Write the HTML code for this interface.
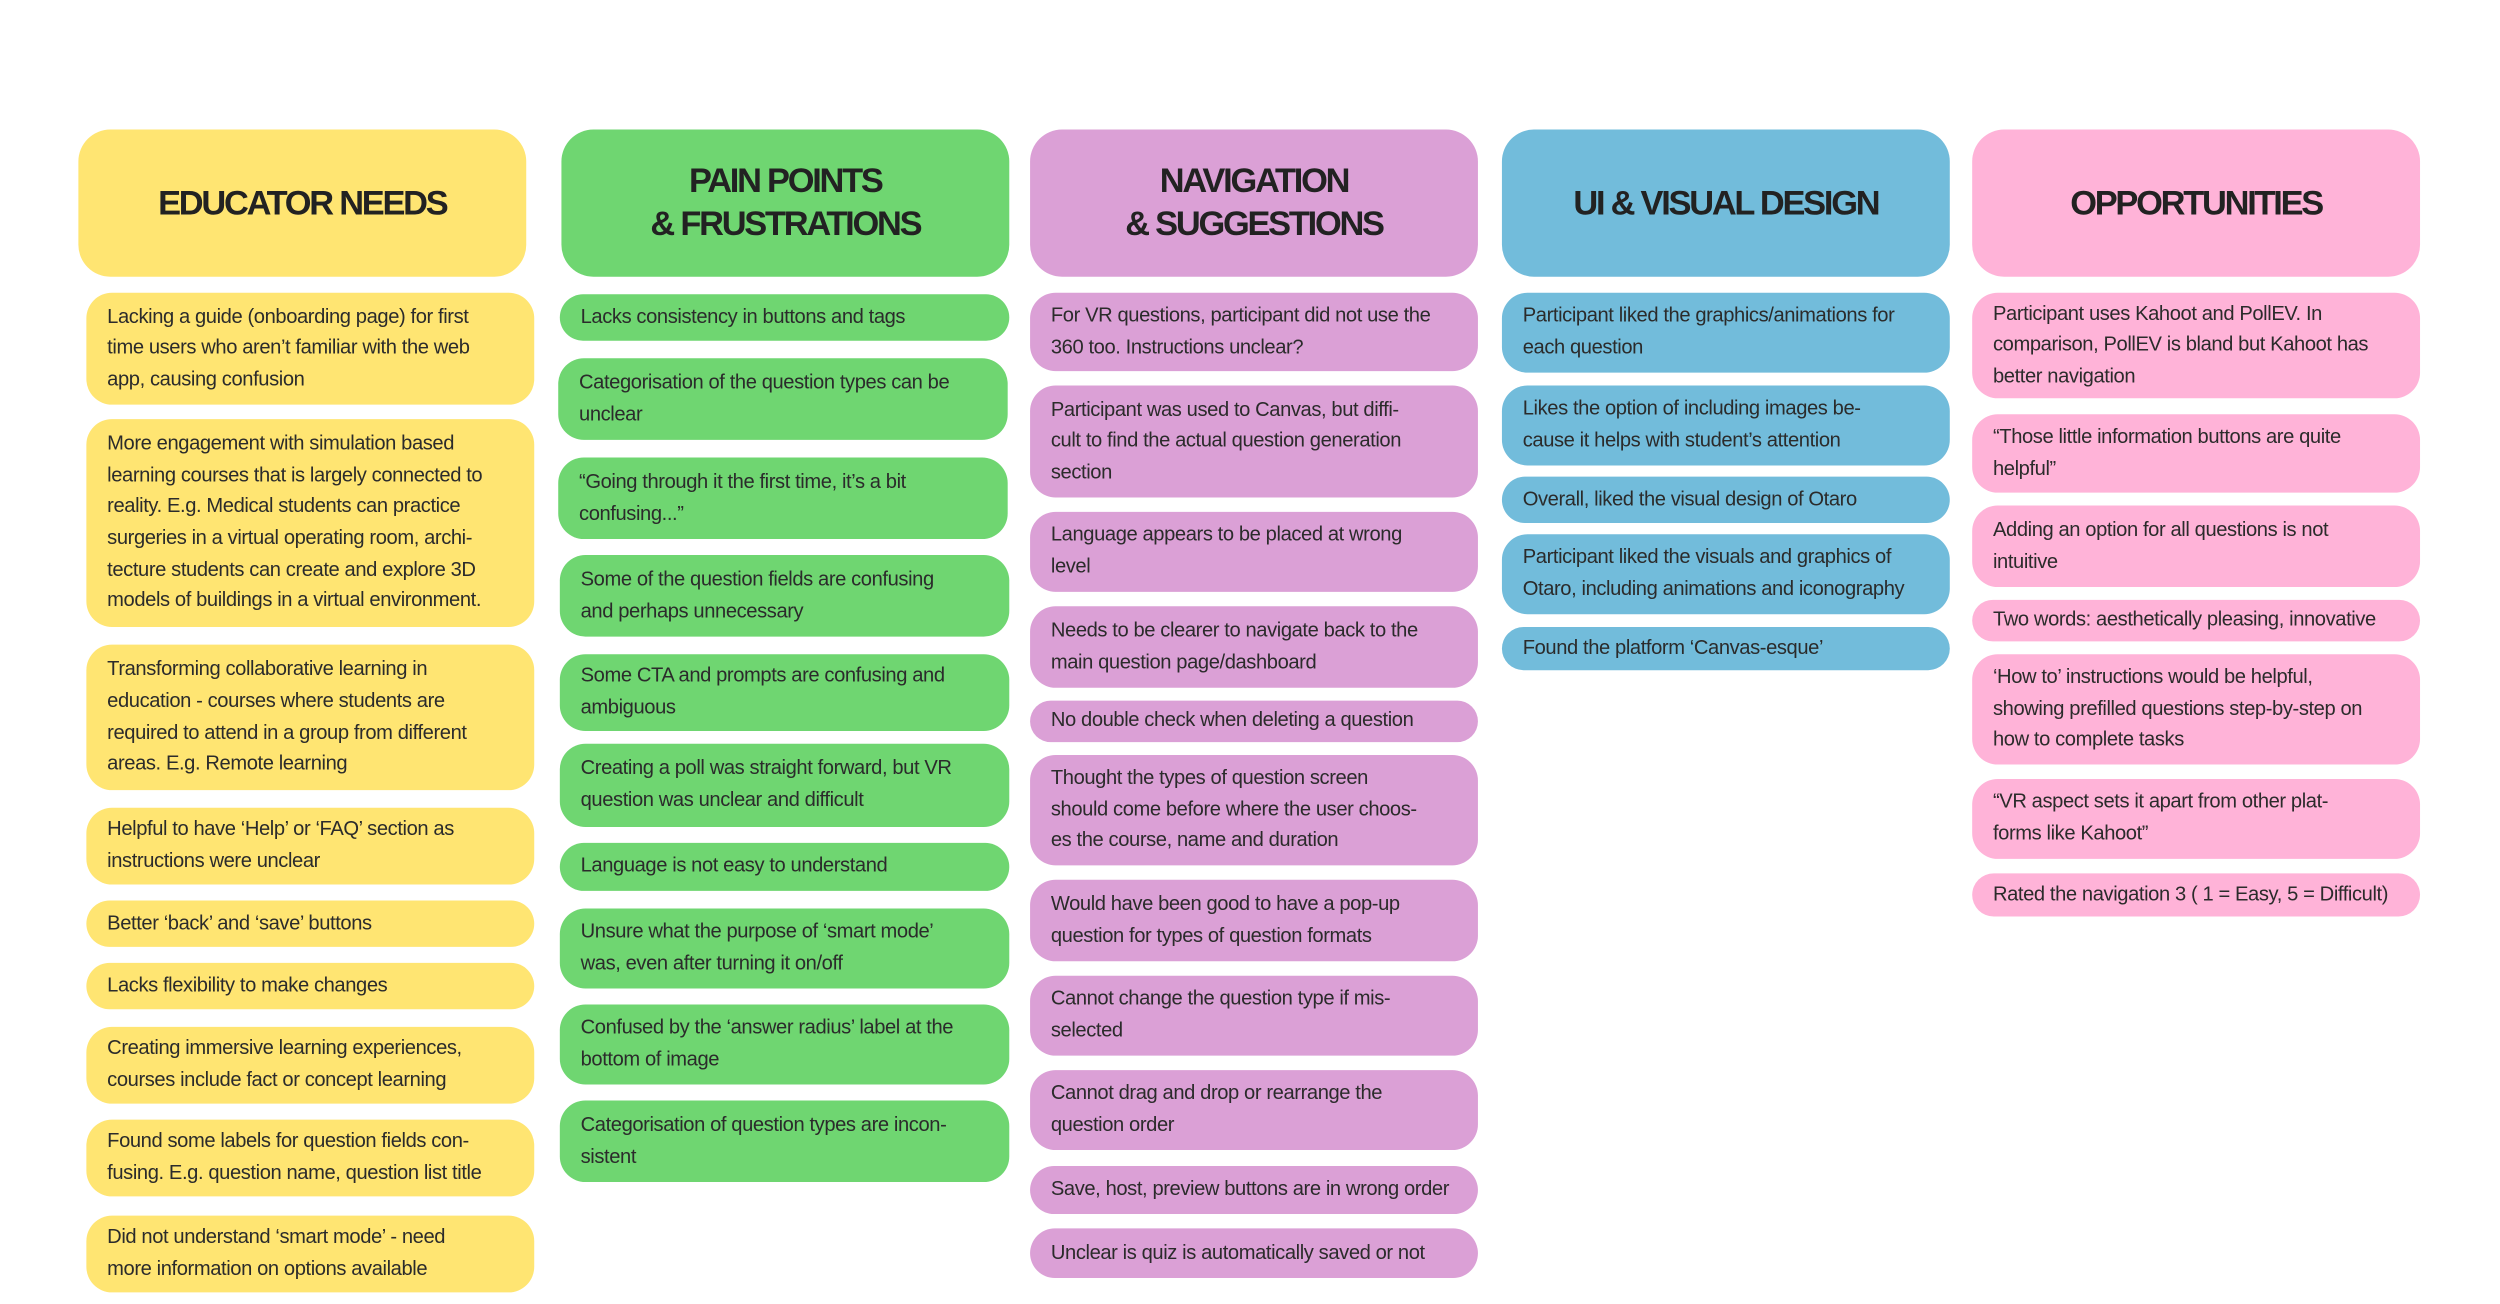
<!DOCTYPE html>
<html><head><meta charset="utf-8">
<style>
html,body{margin:0;padding:0;background:#fff;}
body{width:2500px;height:1304px;overflow:hidden;position:relative;}
#s{position:absolute;left:0;top:0;width:1563px;height:815px;transform:scale(1.5995);transform-origin:0 0;}
.h{position:absolute;border-radius:20px;display:flex;align-items:center;justify-content:center;text-align:center;font-family:"Liberation Sans",sans-serif;font-weight:bold;font-size:21.5px;letter-spacing:-1.4px;line-height:27px;color:#222;}
.c{position:absolute;border-radius:16px;display:flex;align-items:center;box-sizing:border-box;padding-left:13px;font-family:"Liberation Sans",sans-serif;font-size:12.6px;letter-spacing:-0.25px;line-height:19.6px;color:#2b2b2b;white-space:nowrap;}
.y{background:#FFE572}.g{background:#6FD671}.p{background:#DBA0D6}.b{background:#72BCDB}.k{background:#FFB3D8}
</style></head><body><div id="s">
<div class="h y" style="left:49px;top:81px;width:280px;height:92px">EDUCATOR NEEDS</div>
<div class="h g" style="left:351px;top:81px;width:280px;height:92px">PAIN POINTS<br>&amp; FRUSTRATIONS</div>
<div class="h p" style="left:644px;top:81px;width:280px;height:92px">NAVIGATION<br>&amp; SUGGESTIONS</div>
<div class="h b" style="left:939px;top:81px;width:280px;height:92px">UI &amp; VISUAL DESIGN</div>
<div class="h k" style="left:1233px;top:81px;width:280px;height:92px">OPPORTUNITIES</div>

<div class="c y" style="left:54px;top:183px;width:280px;height:70px">Lacking a guide (onboarding page) for first<br>time users who aren’t familiar with the web<br>app, causing confusion</div>
<div class="c y" style="left:54px;top:262px;width:280px;height:130px">More engagement with simulation based<br>learning courses that is largely connected to<br>reality. E.g. Medical students can practice<br>surgeries in a virtual operating room, archi-<br>tecture students can create and explore 3D<br>models of buildings in a virtual environment.</div>
<div class="c y" style="left:54px;top:403px;width:280px;height:91px">Transforming collaborative learning in<br>education - courses where students are<br>required to attend in a group from different<br>areas. E.g. Remote learning</div>
<div class="c y" style="left:54px;top:505px;width:280px;height:48px">Helpful to have ‘Help’ or ‘FAQ’ section as<br>instructions were unclear</div>
<div class="c y" style="left:54px;top:563px;width:280px;height:29px">Better ‘back’ and ‘save’ buttons</div>
<div class="c y" style="left:54px;top:602px;width:280px;height:29px">Lacks flexibility to make changes</div>
<div class="c y" style="left:54px;top:642px;width:280px;height:48px">Creating immersive learning experiences,<br>courses include fact or concept learning</div>
<div class="c y" style="left:54px;top:700px;width:280px;height:48px">Found some labels for question fields con-<br>fusing. E.g. question name, question list title</div>
<div class="c y" style="left:54px;top:760px;width:280px;height:48px">Did not understand ‘smart mode’ - need<br>more information on options available</div>

<div class="c g" style="left:350px;top:184px;width:281px;height:29px">Lacks consistency in buttons and tags</div>
<div class="c g" style="left:349px;top:224px;width:281px;height:51px">Categorisation of the question types can be<br>unclear</div>
<div class="c g" style="left:349px;top:286px;width:281px;height:51px">“Going through it the first time, it’s a bit<br>confusing...”</div>
<div class="c g" style="left:350px;top:347px;width:281px;height:51px">Some of the question fields are confusing<br>and perhaps unnecessary</div>
<div class="c g" style="left:350px;top:409px;width:281px;height:48px">Some CTA and prompts are confusing and<br>ambiguous</div>
<div class="c g" style="left:350px;top:465px;width:281px;height:52px">Creating a poll was straight forward, but VR<br>question was unclear and difficult</div>
<div class="c g" style="left:350px;top:527px;width:281px;height:30px">Language is not easy to understand</div>
<div class="c g" style="left:350px;top:568px;width:281px;height:50px">Unsure what the purpose of ‘smart mode’<br>was, even after turning it on/off</div>
<div class="c g" style="left:350px;top:628px;width:281px;height:50px">Confused by the ‘answer radius’ label at the<br>bottom of image</div>
<div class="c g" style="left:350px;top:688px;width:281px;height:51px">Categorisation of question types are incon-<br>sistent</div>

<div class="c p" style="left:644px;top:183px;width:280px;height:49px">For VR questions, participant did not use the<br>360 too. Instructions unclear?</div>
<div class="c p" style="left:644px;top:241px;width:280px;height:70px">Participant was used to Canvas, but diffi-<br>cult to find the actual question generation<br>section</div>
<div class="c p" style="left:644px;top:320px;width:280px;height:50px">Language appears to be placed at wrong<br>level</div>
<div class="c p" style="left:644px;top:379px;width:280px;height:51px">Needs to be clearer to navigate back to the<br>main question page/dashboard</div>
<div class="c p" style="left:644px;top:438px;width:280px;height:26px">No double check when deleting a question</div>
<div class="c p" style="left:644px;top:472px;width:280px;height:69px">Thought the types of question screen<br>should come before where the user choos-<br>es the course, name and duration</div>
<div class="c p" style="left:644px;top:550px;width:280px;height:51px">Would have been good to have a pop-up<br>question for types of question formats</div>
<div class="c p" style="left:644px;top:610px;width:280px;height:50px">Cannot change the question type if mis-<br>selected</div>
<div class="c p" style="left:644px;top:669px;width:280px;height:50px">Cannot drag and drop or rearrange the<br>question order</div>
<div class="c p" style="left:644px;top:729px;width:280px;height:30px">Save, host, preview buttons are in wrong order</div>
<div class="c p" style="left:644px;top:768px;width:280px;height:31px">Unclear is quiz is automatically saved or not</div>

<div class="c b" style="left:939px;top:183px;width:280px;height:50px">Participant liked the graphics/animations for<br>each question</div>
<div class="c b" style="left:939px;top:241px;width:280px;height:50px">Likes the option of including images be-<br>cause it helps with student’s attention</div>
<div class="c b" style="left:939px;top:298px;width:280px;height:29px">Overall, liked the visual design of Otaro</div>
<div class="c b" style="left:939px;top:334px;width:280px;height:50px">Participant liked the visuals and graphics of<br>Otaro, including animations and iconography</div>
<div class="c b" style="left:939px;top:392px;width:280px;height:27px">Found the platform ‘Canvas-esque’</div>

<div class="c k" style="left:1233px;top:183px;width:280px;height:66px">Participant uses Kahoot and PollEV. In<br>comparison, PollEV is bland but Kahoot has<br>better navigation</div>
<div class="c k" style="left:1233px;top:259px;width:280px;height:49px">“Those little information buttons are quite<br>helpful”</div>
<div class="c k" style="left:1233px;top:316px;width:280px;height:51px">Adding an option for all questions is not<br>intuitive</div>
<div class="c k" style="left:1233px;top:375px;width:280px;height:26px">Two words: aesthetically pleasing, innovative</div>
<div class="c k" style="left:1233px;top:409px;width:280px;height:69px">‘How to’ instructions would be helpful,<br>showing prefilled questions step-by-step on<br>how to complete tasks</div>
<div class="c k" style="left:1233px;top:487px;width:280px;height:50px">“VR aspect sets it apart from other plat-<br>forms like Kahoot”</div>
<div class="c k" style="left:1233px;top:546px;width:280px;height:27px">Rated the navigation 3 ( 1 = Easy, 5 = Difficult)</div>
</div></body></html>
